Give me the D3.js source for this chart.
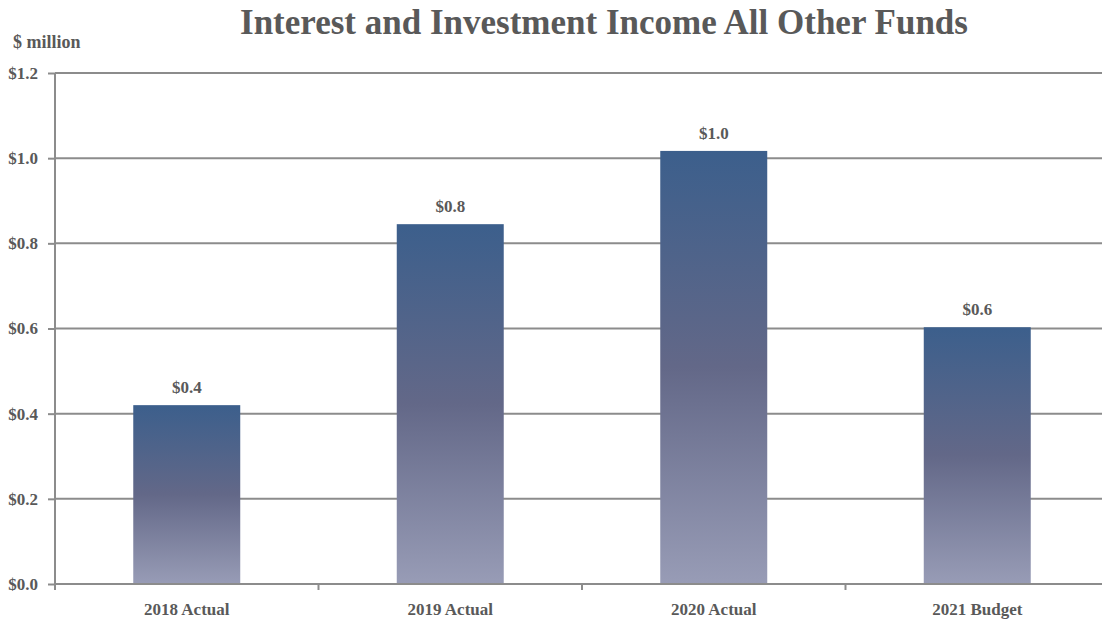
<!DOCTYPE html>
<html><head><meta charset="utf-8">
<script src="https://cdn.jsdelivr.net/npm/d3@7"></script>
<style>body{margin:0;background:#fff}svg text{font-family:"Liberation Serif","DejaVu Serif",serif;font-weight:bold;fill:#595959}</style>
</head><body>
<svg id="c" width="1102" height="619"></svg>
<script>
const categories = ["2018 Actual","2019 Actual","2020 Actual","2021 Budget"];
const values = [0.42, 0.845, 1.017, 0.603];
const valueLabels = ["$0.4","$0.8","$1.0","$0.6"];
const yTicks = [0,0.2,0.4,0.6,0.8,1.0,1.2];
const title = "Interest and Investment Income All Other Funds";
const unitLabel = "$ million";

const svg = d3.select("#c");
const L=55, R=1109, T=73, B=584;
const x = d3.scaleBand().domain(categories).range([L,R]).paddingInner(0.594).paddingOuter(0.297);
const y = d3.scaleLinear().domain([0,1.2]).range([B,T]);

const defs = svg.append("defs");
const g = defs.append("linearGradient").attr("id","bg").attr("x1",0).attr("y1",0).attr("x2",0).attr("y2",1);
g.append("stop").attr("offset","0%").attr("stop-color","#3c5f8c");
g.append("stop").attr("offset","50%").attr("stop-color","#636888");
g.append("stop").attr("offset","100%").attr("stop-color","#989cb6");

// gridlines
svg.append("g").selectAll("line").data(yTicks.filter(d=>d>0)).join("line")
  .attr("x1",L).attr("x2",1102).attr("y1",d=>y(d)).attr("y2",d=>y(d))
  .attr("stroke","#8c8c8c").attr("stroke-width",2);

// bars
svg.append("g").selectAll("rect").data(values).join("rect")
  .attr("x",(d,i)=>x(categories[i])).attr("width",x.bandwidth())
  .attr("y",d=>y(d)).attr("height",d=>B-y(d)).attr("fill","url(#bg)");

// y axis
const ya = svg.append("g").attr("transform",`translate(${L},0)`)
  .call(d3.axisLeft(y).tickValues(yTicks).tickFormat(d=>"$"+d.toFixed(1)).tickSize(7).tickPadding(10));
ya.select(".domain").attr("stroke","#8c8c8c").attr("stroke-width",2).attr("d",`M0,${T}V${B+6}`);
ya.selectAll(".tick line").attr("stroke","#8c8c8c").attr("stroke-width",2);
ya.selectAll(".tick text").style("font-size","17px").attr("fill","#595959");

// x axis
const step = x.step();
const xa = svg.append("g").attr("transform",`translate(0,${B})`);
xa.append("line").attr("x1",L).attr("x2",1102).attr("y1",0).attr("y2",0).attr("stroke","#8c8c8c").attr("stroke-width",2);
xa.selectAll("line.t").data(categories.slice(1)).join("line").attr("class","t")
  .attr("x1",d=>x(d)-(step-x.bandwidth())/2)
  .attr("x2",d=>x(d)-(step-x.bandwidth())/2)
  .attr("y1",0).attr("y2",6).attr("stroke","#8c8c8c").attr("stroke-width",2);
xa.selectAll("text").data(categories).join("text")
  .attr("x",d=>x(d)+x.bandwidth()/2).attr("y",31).attr("text-anchor","middle")
  .style("font-size","17px").text(d=>d);

// value labels
svg.append("g").selectAll("text").data(values).join("text")
  .attr("x",(d,i)=>x(categories[i])+x.bandwidth()/2).attr("y",d=>y(d)-12)
  .attr("text-anchor","middle").style("font-size","17px").text((d,i)=>valueLabels[i]);

svg.append("text").attr("x",604).attr("y",34).attr("text-anchor","middle").style("font-size","35px").text(title);
svg.append("text").attr("x",13).attr("y",48).style("font-size","18px").text(unitLabel);
</script>
</body></html>
